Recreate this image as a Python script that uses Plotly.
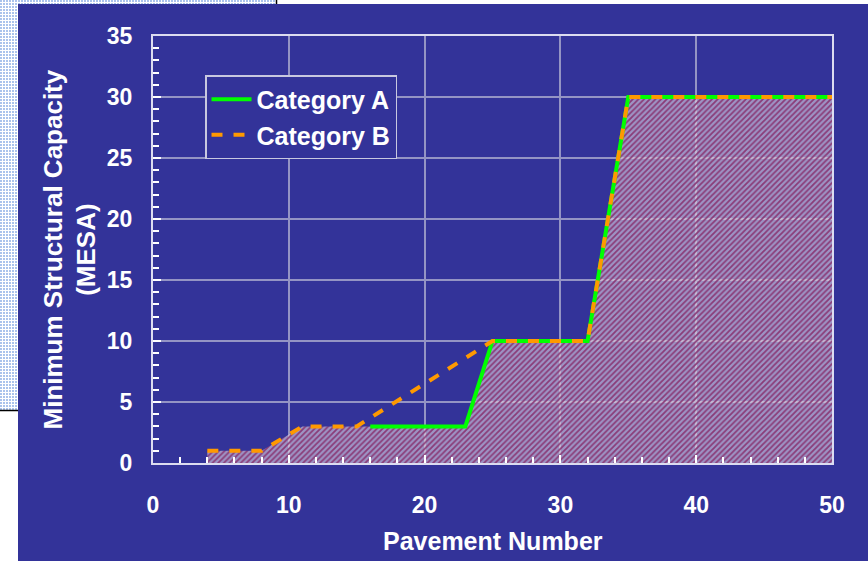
import base64
import numpy as np
import plotly.graph_objects as go

# Minimum structural capacity (MESA) versus pavement number
cat_a_x = [16, 23, 25, 32, 35, 50]
cat_a_y = [3, 3, 10, 10, 30, 30]
cat_b_x = [4, 8, 11, 15, 25, 32, 35, 50]
cat_b_y = [1, 1, 3, 3, 10, 10, 30, 30]

x_ticks = [0, 10, 20, 30, 40, 50]
y_ticks = [0, 5, 10, 15, 20, 25, 30, 35]

# Lower envelope of the two categories (shaded requirement zone)
env_x = np.union1d(cat_a_x, cat_b_x)
a_on = np.interp(env_x, cat_a_x, cat_a_y)
b_on = np.interp(env_x, cat_b_x, cat_b_y)
env_y = np.where(env_x >= cat_a_x[0], np.minimum(a_on, b_on), b_on)

W, H = 868, 561
L, R, T, B = 153, 36, 36, 98
PW, PH = W - L - R, H - T - B

BLUE = "#333399"
FONT = "Liberation Sans, Arial, sans-serif"

# Slide backdrop: dotted panel behind the blue chart panel
svg = f"""<svg xmlns="http://www.w3.org/2000/svg" width="{W}" height="{H}" viewBox="0 0 {W} {H}">
<defs><pattern id="d" width="3" height="3" patternUnits="userSpaceOnUse">
<rect width="3" height="3" fill="#ffffff"/><rect width="2" height="2" fill="#aac3ec"/></pattern></defs>
<rect width="{W}" height="{H}" fill="#ffffff"/>
<rect x="0" y="0" width="276" height="410" fill="url(#d)"/>
<line x1="276.5" y1="0" x2="276.5" y2="410" stroke="#000" stroke-width="1.5"/>
<line x1="0" y1="410.5" x2="276" y2="410.5" stroke="#000" stroke-width="1.5"/>
<rect x="18" y="4" width="{W-18}" height="{H-4}" fill="{BLUE}"/>
</svg>"""
bg_uri = "data:image/svg+xml;base64," + base64.b64encode(svg.encode()).decode()

fig = go.Figure()

fig.add_trace(go.Scatter(
    x=env_x, y=env_y, mode="lines", line=dict(width=0),
    fill="tozeroy", fillcolor="rgba(0,0,0,0)",
    fillpattern=dict(shape="/", size=4, solidity=0.45,
                     fgcolor="#8a3c78", bgcolor="rgba(228,211,225,0.6)",
                     fillmode="replace"),
    showlegend=False, hoverinfo="skip",
))

fig.add_trace(go.Scatter(
    x=cat_a_x, y=cat_a_y, mode="lines", name="Category A",
    line=dict(color="#00ff00", width=4),
))

fig.add_trace(go.Scatter(
    x=cat_b_x, y=cat_b_y, mode="lines", name="Category B",
    line=dict(color="#ff9900", width=4, dash="11px,11px"),
))

axis_common = dict(
    showline=True, linecolor="#dcdcf0", linewidth=2, mirror=True,
    showgrid=True, gridcolor="#9494c4", gridwidth=1.5,
    zeroline=False, ticks="inside", tickcolor="#ffffff", ticklen=8, tickwidth=1.5,
    tickfont=dict(family=FONT, size=23, color="#ffffff", weight="bold"),
)

fig.update_xaxes(
    range=[0, 50], tickvals=x_ticks, ticktext=[str(v) for v in x_ticks],
    minor=dict(dtick=2, ticks="inside", ticklen=6, tickcolor="#ffffff", showgrid=False),
    ticklabelstandoff=20, **axis_common,
)
fig.update_yaxes(
    range=[0, 35], tickvals=y_ticks, ticktext=[str(v) for v in y_ticks],
    minor=dict(dtick=1, ticks="inside", ticklen=6, tickcolor="#ffffff", showgrid=False),
    ticklabelstandoff=14, **axis_common,
)

fig.update_layout(
    width=W, height=H,
    margin=dict(l=L, r=R, t=T, b=B, autoexpand=False),
    paper_bgcolor="#ffffff", plot_bgcolor="rgba(0,0,0,0)",
    images=[dict(source=bg_uri, xref="paper", yref="paper",
                 x=-L / PW, y=1 + T / PH, sizex=W / PW, sizey=H / PH,
                 xanchor="left", yanchor="top", sizing="stretch", layer="below")],
    legend=dict(
        x=(205 - L) / PW, y=(H - B - 75) / PH, xanchor="left", yanchor="top",
        bgcolor=BLUE, bordercolor="#c8c8e0", borderwidth=1.5,
        font=dict(family=FONT, size=25, color="#ffffff", weight="bold"),
        itemwidth=40, tracegroupgap=0,
    ),
    annotations=[
        dict(text="Pavement Number", xref="paper", yref="paper",
             x=0.5, y=(H - B - 541) / PH, xanchor="center", yanchor="middle",
             showarrow=False,
             font=dict(family=FONT, size=25, color="#ffffff", weight="bold")),
        dict(text="Minimum Structural Capacity<br>(MESA)", xref="paper", yref="paper",
             x=(69 - L) / PW, y=0.5, xanchor="center", yanchor="middle",
             textangle=-90, showarrow=False,
             font=dict(family=FONT, size=26, color="#ffffff", weight="bold")),
    ],
)

fig.write_html("out.html")
